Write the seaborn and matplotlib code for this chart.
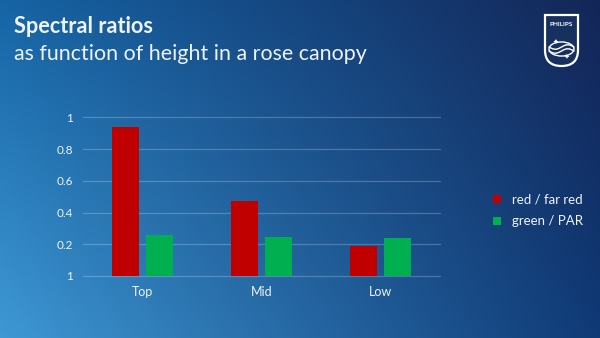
import numpy as np
import pandas as pd
import matplotlib
matplotlib.use("Agg")
import matplotlib.pyplot as plt
import seaborn as sns
from matplotlib.patches import PathPatch, Circle
from matplotlib.path import Path

# ---- data ----
categories = ["Top", "Mid", "Low"]
red_far_red = [0.94, 0.47, 0.19]
green_par = [0.26, 0.245, 0.24]
series_names = ["red / far red", "green / PAR"]
y_ticks = [0, 0.2, 0.4, 0.6, 0.8, 1.0]
y_tick_labels = ["1", "0.2", "0.4", "0.6", "0.8", "1"]

df = pd.DataFrame({
    "height": categories * 2,
    "ratio": red_far_red + green_par,
    "series": [series_names[0]] * 3 + [series_names[1]] * 3,
})

sns.set_theme(style="white")
plt.rcParams["font.family"] = ["Lato", "DejaVu Sans"]

W, H = 600, 338
fig = plt.figure(figsize=(6.0, 3.38), dpi=100)

# ---- gradient background ----
bg = fig.add_axes([0, 0, 1, 1])
bg.set_axis_off()
tl = np.array([22, 100, 165]) / 255
tr = np.array([20, 38, 88]) / 255
bl = np.array([62, 152, 212]) / 255
br = np.array([15, 58, 118]) / 255
ny, nx = 200, 300
u = np.linspace(0, 1, nx)[None, :, None]
v = np.linspace(0, 1, ny)[:, None, None]  # 0 top, 1 bottom
img = (1 - u) * (1 - v) * tl + u * (1 - v) * tr + (1 - u) * v * bl + u * v * br
bg.imshow(img, aspect="auto", extent=[0, 1, 0, 1], interpolation="bilinear")
bg.set_xlim(0, 1)
bg.set_ylim(0, 1)

# ---- titles ----
txt_color = "#eef3f8"
fig.text(14 / W, 1 - 33 / H, "Spectral ratios", fontsize=15.6, fontweight="bold",
         color=txt_color, ha="left", va="baseline")
fig.text(14 / W, 1 - 60 / H, "as function of height in a rose canopy", fontsize=15.4,
         color=txt_color, ha="left", va="baseline")

# ---- chart ----
ax = fig.add_axes([83 / W, 1 - 276 / H, (440 - 83) / W, (276 - 117.3) / H])
ax.patch.set_alpha(0)
sns.barplot(data=df, x="height", y="ratio", hue="series",
            palette=["#c00000", "#00b050"], width=0.57, gap=0.2,
            errorbar=None, ax=ax, saturation=1, zorder=3, linewidth=0)
ax.set_xlim(-0.5, 2.5)
ax.set_ylim(0, 1.0)
ax.set_yticks(y_ticks)
ax.set_yticklabels(y_tick_labels)
for yv in y_ticks:
    ax.axhline(yv, color="#ffffff", alpha=0.22, lw=0.9, zorder=1, clip_on=False)
for s in ax.spines.values():
    s.set_visible(False)
ax.tick_params(axis="both", length=0, colors=txt_color, labelsize=8.5)
ax.tick_params(axis="y", pad=7)
ax.tick_params(axis="x", pad=7, labelsize=9)
ax.set_xlabel("")
ax.set_ylabel("")

handles, labels = ax.get_legend_handles_labels()
leg = ax.legend(handles, labels, loc="upper left", bbox_to_anchor=(486 / W, 1 - 187 / H),
                bbox_transform=fig.transFigure, frameon=False, fontsize=9.5,
                labelcolor=txt_color, handlelength=0.6, handleheight=0.6,
                handletextpad=0.9, labelspacing=0.75, borderpad=0)
for h in leg.legend_handles:
    h.set_linewidth(0)

# ---- logo (shield) ----
def fx(x):
    return x / W
def fy(y):
    return 1 - y / H

x0, x1, yt, ym, yb = 545, 578, 15, 50, 66
verts = [(fx(x0), fy(yt)), (fx(x1), fy(yt)), (fx(x1), fy(ym)),
         (fx(x1), fy(yb)), (fx((x0 + x1) / 2), fy(yb)),
         (fx(x0), fy(yb)), (fx(x0), fy(ym)), (fx(x0), fy(yt))]
codes = [Path.MOVETO, Path.LINETO, Path.LINETO, Path.CURVE3, Path.CURVE3,
         Path.CURVE3, Path.CURVE3, Path.CLOSEPOLY]
shield = PathPatch(Path(verts, codes), facecolor="#16305f", edgecolor="white",
                   lw=1.6, transform=fig.transFigure)
fig.add_artist(shield)
fig.text(fx((x0 + x1) / 2), fy(24), "PHILIPS", fontsize=4.6, fontweight="bold",
         color="white", ha="center", va="center")
circ = Circle((fx(561.5), fy(49)), 12.5 / W, transform=fig.transFigure,
              facecolor="none", edgecolor="white", lw=1.0)
fig.add_artist(circ)
xs = np.linspace(549, 574, 40)
for off in (-2, 2):
    ys = 49 + off + 2.2 * np.sin((xs - 549) / 25 * 2 * np.pi)
    fig.add_artist(plt.Line2D(fx(xs), fy(ys), color="white", lw=1.0,
                              transform=fig.transFigure))
fig.text(fx(556), fy(42), "✦", fontsize=5, color="white", ha="center", va="center",
         family=["DejaVu Sans"])
fig.text(fx(567), fy(57), "✦", fontsize=5, color="white", ha="center", va="center",
         family=["DejaVu Sans"])

fig.savefig("out.png", dpi=100)
